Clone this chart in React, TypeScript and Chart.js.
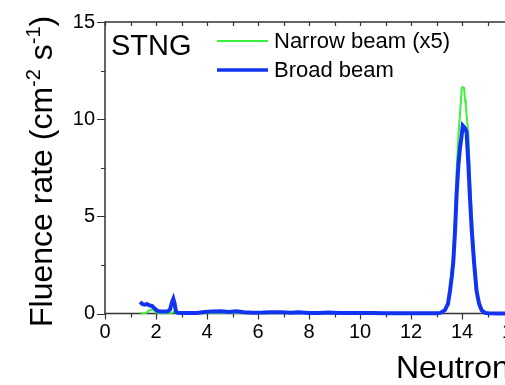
import React, { useEffect, useRef } from "react";
import { Chart, registerables } from "chart.js";

Chart.register(...registerables);

// Broad beam
const broadEnergy = [1.38, 1.45, 1.55, 1.65, 1.75, 1.85, 1.95, 2.05, 2.15, 2.3,
  2.45, 2.55, 2.62, 2.68, 2.73, 2.78, 2.85, 3.0, 3.3, 3.6,
  3.9, 4.2, 4.55, 4.85, 5.15, 5.45, 5.8, 6.2, 6.5, 6.9,
  7.3, 7.6, 8.0, 8.4, 8.75, 9.2, 9.6, 10.0, 10.5, 11.0,
  11.5, 12.0, 12.5, 13.0, 13.15, 13.33, 13.45, 13.53, 13.6, 13.66,
  13.73, 13.79, 13.86, 13.92, 13.98, 14.03, 14.08, 14.13, 14.18, 14.25,
  14.31, 14.38, 14.47, 14.57, 14.67, 14.77, 14.9, 15.05, 15.5, 16.0];
const broadFluence = [0.6, 0.5, 0.45, 0.48, 0.42, 0.38, 0.25, 0.14, 0.1, 0.1,
  0.1, 0.2, 0.55, 0.75, 0.5, 0.12, 0.04, 0.02, 0.02, 0.03,
  0.08, 0.1, 0.12, 0.08, 0.12, 0.07, 0.04, 0.05, 0.07, 0.06,
  0.04, 0.06, 0.03, 0.03, 0.05, 0.03, 0.02, 0.02, 0.02, 0.01,
  0.01, 0.01, 0.01, 0.01, 0.03, 0.17, 0.5, 1.17, 1.9, 2.67,
  4.33, 6.17, 7.67, 8.5, 9.1, 9.67, 9.6, 9.5, 9.33, 7.67,
  6.0, 4.33, 2.67, 1.17, 0.5, 0.17, 0.03, 0.01, 0.0, 0.0];

// Narrow beam (x5)
const narrowEnergy = [1.4, 1.6, 1.7, 1.8, 1.9, 2.0, 2.2, 2.6, 2.7, 2.8,
  3.0, 4.0, 5.0, 6.0, 8.0, 10.0, 12.0, 13.0, 13.2, 13.35,
  13.45, 13.53, 13.6, 13.66, 13.73, 13.79, 13.86, 13.92, 13.96, 13.99,
  14.03, 14.08, 14.12, 14.15, 14.19, 14.25, 14.31, 14.38, 14.47, 14.57,
  14.67, 14.8, 15.0, 15.5, 16.0];
const narrowFluence = [0.0, 0.02, 0.12, 0.2, 0.18, 0.05, 0.01, 0.02, 0.08, 0.02,
  0.0, 0.02, 0.02, 0.01, 0.01, 0.01, 0.0, 0.01, 0.05, 0.25,
  0.6, 1.4, 2.3, 3.2, 5.2, 7.4, 9.2, 10.2, 11.0, 11.6,
  11.65, 11.6, 11.0, 10.7, 10.1, 9.2, 7.2, 5.2, 3.2, 1.4,
  0.6, 0.15, 0.02, 0.0, 0.0];

const seriesLabels = ["Narrow beam (x5)", "Broad beam"];
const panelLabel = "STNG";
const xTitle = "Neutron energy (MeV)";
const xMin = 0, xMax = 20, yMin = 0, yMax = 15;

const FONT = "'Liberation Sans', Arial, sans-serif";
const BLUE = "#1234f2";
const GREEN = "#3ef03e";
const AXIS = "#333333";

export default function App() {
  const ref = useRef<HTMLCanvasElement>(null);
  useEffect(() => {
    const canvas = ref.current!;
    const decor = {
      id: "decor",
      beforeDatasetsDraw(chart: any) {
        const { ctx, chartArea: a, scales } = chart;
        const xs = scales.x, ys = scales.y;
        ctx.save();
        ctx.strokeStyle = AXIS;
        ctx.lineWidth = 1.5;
        ctx.beginPath();
        ctx.rect(a.left, a.top, a.right - a.left, a.bottom - a.top);
        ctx.stroke();
        ctx.lineWidth = 1.2;
        ctx.beginPath();
        for (let v = xMin; v <= xMax; v += 1) {
          const px = Math.round(xs.getPixelForValue(v)) + 0.5;
          const major = v % 2 === 0;
          ctx.moveTo(px, a.bottom);
          ctx.lineTo(px, a.bottom + (major ? 6 : 4));
          ctx.moveTo(px, a.top);
          ctx.lineTo(px, a.top + 4);
        }
        for (let v = yMin; v <= yMax; v += 2.5) {
          const py = Math.round(ys.getPixelForValue(v)) + 0.5;
          const major = v % 5 === 0;
          ctx.moveTo(a.left, py);
          ctx.lineTo(a.left - (major ? 8 : 4), py);
        }
        ctx.stroke();
        ctx.restore();
      },
      afterDraw(chart: any) {
        const { ctx } = chart;
        ctx.save();
        ctx.fillStyle = "#000";
        ctx.textBaseline = "alphabetic";
        ctx.textAlign = "left";
        // panel label
        ctx.font = `29px ${FONT}`;
        ctx.fillText(panelLabel, 111, 55);
        // legend
        ctx.lineCap = "butt";
        ctx.strokeStyle = GREEN; ctx.lineWidth = 2;
        ctx.beginPath(); ctx.moveTo(217, 41); ctx.lineTo(268, 41); ctx.stroke();
        ctx.strokeStyle = BLUE; ctx.lineWidth = 3.5;
        ctx.beginPath(); ctx.moveTo(217, 70); ctx.lineTo(268, 70); ctx.stroke();
        ctx.font = `22px ${FONT}`;
        ctx.fillText(seriesLabels[0], 274, 48);
        ctx.fillText(seriesLabels[1], 274, 77);
        // x title
        ctx.font = `32px ${FONT}`;
        ctx.fillText(xTitle, 396, 378);
        // y title with superscripts
        ctx.translate(52, 327);
        ctx.rotate(-Math.PI / 2);
        const parts: [string, boolean][] = [["Fluence rate (cm", false], ["-2", true], [" s", false], ["-1", true], [")", false]];
        let x = 0;
        for (const [t, sup] of parts) {
          ctx.font = sup ? `20px ${FONT}` : `32px ${FONT}`;
          ctx.fillText(t, x, sup ? -12 : 0);
          x += ctx.measureText(t).width;
        }
        ctx.restore();
      },
    };
    const chart = new Chart(canvas, {
      type: "scatter",
      data: {
        datasets: [
          {
            label: seriesLabels[1],
            data: broadEnergy.map((e, i) => ({ x: e, y: broadFluence[i] })),
            showLine: true,
            borderColor: BLUE,
            borderWidth: 4,
            pointRadius: 0,
            tension: 0,
            clip: false as any,
            order: 0,
          },
          {
            label: seriesLabels[0],
            data: narrowEnergy.map((e, i) => ({ x: e, y: narrowFluence[i] })),
            showLine: true,
            borderColor: GREEN,
            borderWidth: 2,
            pointRadius: 0,
            tension: 0,
            clip: false as any,
            order: 1,
          },
        ],
      },
      options: {
        responsive: false,
        animation: false,
        layout: { padding: { top: 14, left: 0, right: 25, bottom: 0 } },
        plugins: { legend: { display: false }, tooltip: { enabled: false } },
        scales: {
          x: {
            type: "linear",
            min: xMin,
            max: xMax,
            grid: { display: false, drawTicks: false },
            border: { display: false },
            ticks: {
              stepSize: 1,
              autoSkip: false,
              maxRotation: 0,
              padding: 7,
              color: "#000",
              font: { family: FONT, size: 20 },
              callback: (v: any) => (Number(v) % 2 === 0 ? String(v) : ""),
            },
            afterFit: (s: any) => { s.height = 385 - 313.5; },
          },
          y: {
            type: "linear",
            min: yMin,
            max: yMax,
            grid: { display: false, drawTicks: false },
            border: { display: false },
            ticks: {
              stepSize: 2.5,
              padding: 10,
              color: "#000",
              font: { family: FONT, size: 20 },
              callback: (v: any) => (Number(v) % 5 === 0 ? String(v) : ""),
            },
            afterFit: (s: any) => { s.width = 105; },
          },
        },
      },
      plugins: [decor],
    });
    return () => chart.destroy();
  }, []);
  return (
    <div style={{ position: "absolute", left: 0, top: 0, width: 505, height: 385, overflow: "hidden", background: "#fff" }}>
      <canvas ref={ref} width={640} height={385} style={{ display: "block" }} />
    </div>
  );
}
